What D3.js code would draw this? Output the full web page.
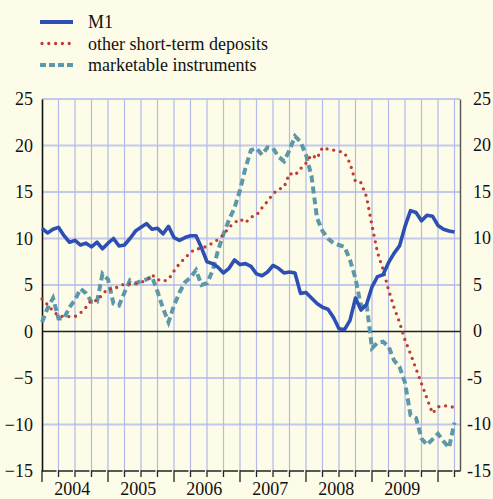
<!DOCTYPE html>
<html>
<head>
<meta charset="utf-8">
<script src="https://cdn.jsdelivr.net/npm/d3@7"></script>
<style>
  body { margin: 0; background: #fdfce8; }
  svg { display: block; }
  text { font-family: "Liberation Serif", "Times New Roman", serif; fill: #111; }
</style>
</head>
<body>
<svg width="493" height="499"></svg>
<script>
// monthly annual growth rates, Jan 2004 .. Apr 2010
const m1 = [11.1, 10.6, 11.0, 11.2, 10.3, 9.6, 9.8, 9.3, 9.5, 9.1, 9.6, 8.9,
  9.5, 10.0, 9.2, 9.3, 10.0, 10.8, 11.2, 11.6, 11.0, 11.1, 10.5, 11.3,
  10.1, 9.8, 10.1, 10.3, 10.3, 9.0, 7.5, 7.3, 6.9, 6.3, 6.8, 7.7,
  7.2, 7.3, 7.0, 6.2, 6.0, 6.4, 7.1, 6.8, 6.3, 6.4, 6.3, 4.1,
  4.2, 3.6, 3.0, 2.6, 2.4, 1.5, 0.3, 0.2, 1.2, 3.6, 2.3, 2.9,
  4.8, 5.9, 6.1, 7.4, 8.4, 9.2, 11.3, 13.0, 12.8, 11.9, 12.5, 12.4,
  11.4, 11.0, 10.8, 10.7];
const otherDeposits = [3.5, 2.9, 2.2, 1.7, 1.6, 1.6, 1.6, 2.0, 2.6, 3.4, 3.3, 4.0,
  4.6, 4.5, 4.9, 5.1, 5.1, 5.1, 5.3, 5.5, 6.1, 5.6, 5.4, 5.6,
  6.5, 7.3, 7.9, 8.5, 8.9, 8.9, 9.2, 9.5, 9.9, 10.4, 11.2, 11.7,
  12.1, 11.7, 12.3, 12.5, 13.3, 14.0, 14.8, 15.3, 15.5, 17.0, 16.8, 17.5,
  18.1, 19.0, 18.6, 19.8, 19.6, 19.5, 19.4, 19.2, 18.1, 16.1, 16.0, 14.5,
  11.4, 8.5, 6.7, 4.5, 2.6, 1.0, -0.9, -2.4, -4.0, -5.6, -7.2, -8.8,
  -8.1, -8.0, -8.0, -8.2];
const marketable = [1.0, 2.5, 3.6, 1.4, 1.4, 2.6, 3.4, 4.6, 4.1, 3.2, 3.2, 6.2,
  5.6, 3.0, 2.8, 4.2, 5.5, 5.2, 5.4, 5.6, 5.9, 4.3, 2.5, 1.0,
  2.8, 4.2, 5.3, 5.8, 6.6, 5.0, 5.2, 6.5, 8.7, 10.5, 12.0, 13.3,
  15.2, 17.6, 19.5, 19.7, 19.0, 19.8, 19.7, 18.8, 18.3, 19.5, 21.0, 20.4,
  19.0, 16.7, 12.2, 10.8, 10.0, 9.5, 9.3, 9.1, 7.7, 5.7, 2.7, 3.0,
  -1.8, -1.2, -1.1, -1.6, -3.1, -3.8, -5.5, -9.0, -9.3, -11.5, -12.2, -11.6,
  -11.0, -11.8, -12.5, -9.8];

const years = ["2004", "2005", "2006", "2007", "2008", "2009"];
const yTicks = [-15, -10, -5, 0, 5, 10, 15, 20, 25];
const seriesNames = ["M1", "other short-term deposits", "marketable instruments"];

const svg = d3.select("svg");

const x = d3.scaleLinear().domain([0, 76]).range([42, 460]);
const y = d3.scaleLinear().domain([-15, 25]).range([471, 99]);

// quarter positions (month index)
const quarters = d3.range(0, 76, 3);

// grid
svg.append("g").selectAll("line").data(yTicks.filter(d => d !== -15 && d !== 0)).join("line")
  .attr("x1", x(0)).attr("x2", x(76))
  .attr("y1", d => y(d)).attr("y2", d => y(d))
  .attr("stroke", "#c4c8ea").attr("stroke-width", 2);

svg.append("g").selectAll("line").data(quarters.filter(d => d > 0)).join("line")
  .attr("x1", d => x(d)).attr("x2", d => x(d))
  .attr("y1", y(25)).attr("y2", y(-15))
  .attr("stroke", "#b3b9ea").attr("stroke-width", 1.2);

// zero line
svg.append("line")
  .attr("x1", x(0)).attr("x2", x(76))
  .attr("y1", y(0)).attr("y2", y(0))
  .attr("stroke", "#222").attr("stroke-width", 1.6);

// left axis
svg.append("g").attr("transform", `translate(${x(0)},0)`)
  .call(d3.axisLeft(y).tickValues(yTicks).tickSize(0).tickPadding(9))
  .call(g => g.select(".domain").attr("stroke", "#111").attr("stroke-width", 1.6));

// right axis: digits left-aligned, minus sign hanging to the left
svg.append("g").attr("transform", `translate(${x(76)},0)`)
  .call(d3.axisRight(y).tickValues(yTicks).tickSize(0).tickFormat(""))
  .call(g => g.select(".domain").attr("stroke", "#555").attr("stroke-width", 1.4));
svg.append("g").selectAll("text").data(yTicks).join("text")
  .attr("x", d => d < 0 ? 467 : 473)
  .attr("y", d => y(d))
  .attr("dy", "0.32em")
  .attr("font-size", 18)
  .text(d => d);

svg.selectAll(".tick text")
  .attr("font-family", "Liberation Serif").attr("font-size", 18).attr("fill", "#111");

// bottom axis: one small "bracket" per quarter
const bottom = svg.append("g").attr("stroke", "#222").attr("stroke-width", 1.3).attr("fill", "none");
bottom.selectAll("path").data(quarters).join("path")
  .attr("d", d => {
    const x0 = x(d), x1 = Math.min(x(d + 3) - 2, x(76));
    const len = d % 12 === 0 ? 11 : 6;
    return `M${x0},${y(-15) + len}V${y(-15)}H${x1}`;
  });

svg.append("g").selectAll("text").data(years).join("text")
  .attr("x", (d, i) => x(i * 12 + 5.5))
  .attr("y", 495)
  .attr("text-anchor", "middle")
  .attr("font-size", 18)
  .text(d => d);

// series
const line = d3.line().x((d, i) => x(i)).y(d => y(d));

svg.append("path").datum(marketable)
  .attr("d", line).attr("fill", "none")
  .attr("stroke", "#5c98aa").attr("stroke-width", 4)
  .attr("stroke-dasharray", "7,4");

svg.append("path").datum(otherDeposits)
  .attr("d", line).attr("fill", "none")
  .attr("stroke", "#c03c30").attr("stroke-width", 3.3)
  .attr("stroke-linecap", "round")
  .attr("stroke-dasharray", "0,6.8");

svg.append("path").datum(m1)
  .attr("d", line).attr("fill", "none")
  .attr("stroke", "#2d4fb3").attr("stroke-width", 3.6)
  .attr("stroke-linejoin", "round");

// legend
const legendStyles = [
  { stroke: "#2d4fb3", width: 4, dash: null, cap: "butt" },
  { stroke: "#c03c30", width: 3.3, dash: "0,6.8", cap: "round" },
  { stroke: "#5c98aa", width: 4, dash: "6,3", cap: "butt" }
];
const legend = svg.append("g").selectAll("g").data(seriesNames).join("g")
  .attr("transform", (d, i) => `translate(0,${22 + i * 21.5})`);
legend.append("line")
  .attr("x1", (d, i) => i === 1 ? 42 : 40).attr("x2", 73)
  .attr("stroke", (d, i) => legendStyles[i].stroke)
  .attr("stroke-width", (d, i) => legendStyles[i].width)
  .attr("stroke-dasharray", (d, i) => legendStyles[i].dash)
  .attr("stroke-linecap", (d, i) => legendStyles[i].cap);
legend.append("text")
  .attr("x", 88).attr("y", 6)
  .attr("font-size", 18)
  .text(d => d);
</script>
</body>
</html>
